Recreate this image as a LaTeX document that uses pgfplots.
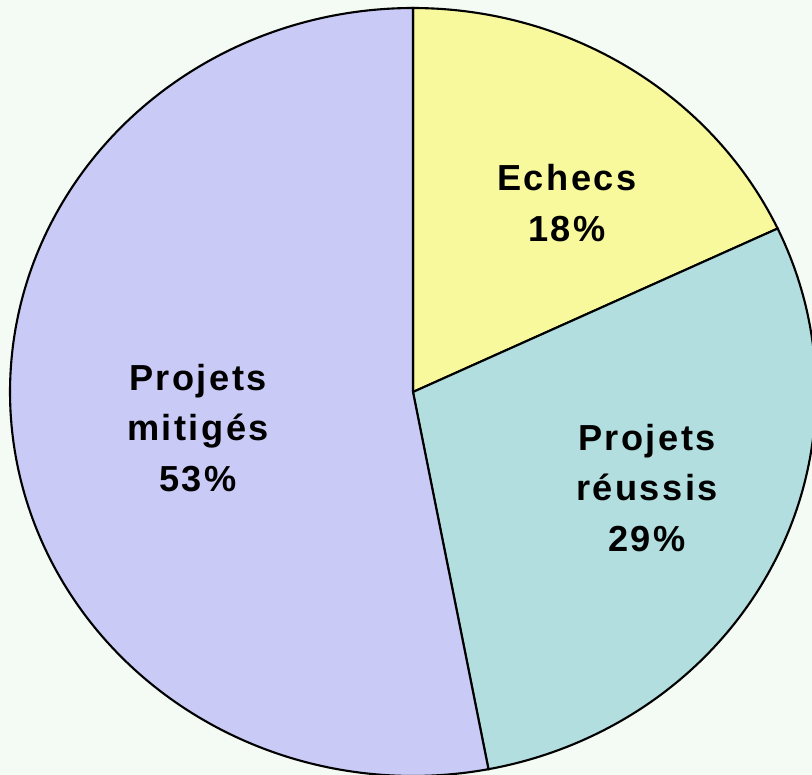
\documentclass[border=0pt]{standalone}
\usepackage{pgfplots}
\pgfplotsset{compat=1.18}
\usepackage{fontspec}
\setmainfont{Liberation Sans}
\newfontfamily\lblfont{Liberation Sans}[LetterSpace=7]
\definecolor{bg}{HTML}{F4FAF4}
\definecolor{cEch}{HTML}{F8F89C}
\definecolor{cReu}{HTML}{B2DEE0}
\definecolor{cMit}{HTML}{CACAF6}
% data (percent)
\def\vEch{18}
\def\vReu{29}
\def\vMit{53}
\begin{document}
\begin{tikzpicture}
\pgfmathsetmacro\aA{90}
\pgfmathsetmacro\aB{90-3.6*\vEch}
\pgfmathsetmacro\aC{\aB-3.6*\vReu}
\pgfmathsetmacro\aD{\aC-3.6*\vMit}
\begin{axis}[
  width=8.12cm, height=7.75cm, scale only axis,
  xmin=0, xmax=812, ymin=-775, ymax=0,
  ticks=none, axis line style={draw=none},
  axis background/.style={fill=bg},
  clip=true,
]
\addplot[fill=cEch, draw=black, line width=0.6pt, domain=\aB:\aA, samples=80, variable=\t]
  ({413+403*cos(\t)}, {-392+384*sin(\t)}) -- (axis cs:413,-392) -- cycle;
\addplot[fill=cReu, draw=black, line width=0.6pt, domain=\aC:\aB, samples=120, variable=\t]
  ({413+403*cos(\t)}, {-392+384*sin(\t)}) -- (axis cs:413,-392) -- cycle;
\addplot[fill=cMit, draw=black, line width=0.6pt, domain=\aD:\aC, samples=200, variable=\t]
  ({413+403*cos(\t)}, {-392+384*sin(\t)}) -- (axis cs:413,-392) -- cycle;
\node[align=center, font=\lblfont\fontsize{10.3}{14.3}\selectfont\bfseries] at (axis cs:567,-203) {Echecs\\18\%};
\node[align=center, font=\lblfont\fontsize{10.3}{14.3}\selectfont\bfseries] at (axis cs:647,-488) {Projets\\réussis\\29\%};
\node[align=center, font=\lblfont\fontsize{10.3}{14.3}\selectfont\bfseries] at (axis cs:198,-428) {Projets\\mitigés\\53\%};
\end{axis}
\end{tikzpicture}
\end{document}
